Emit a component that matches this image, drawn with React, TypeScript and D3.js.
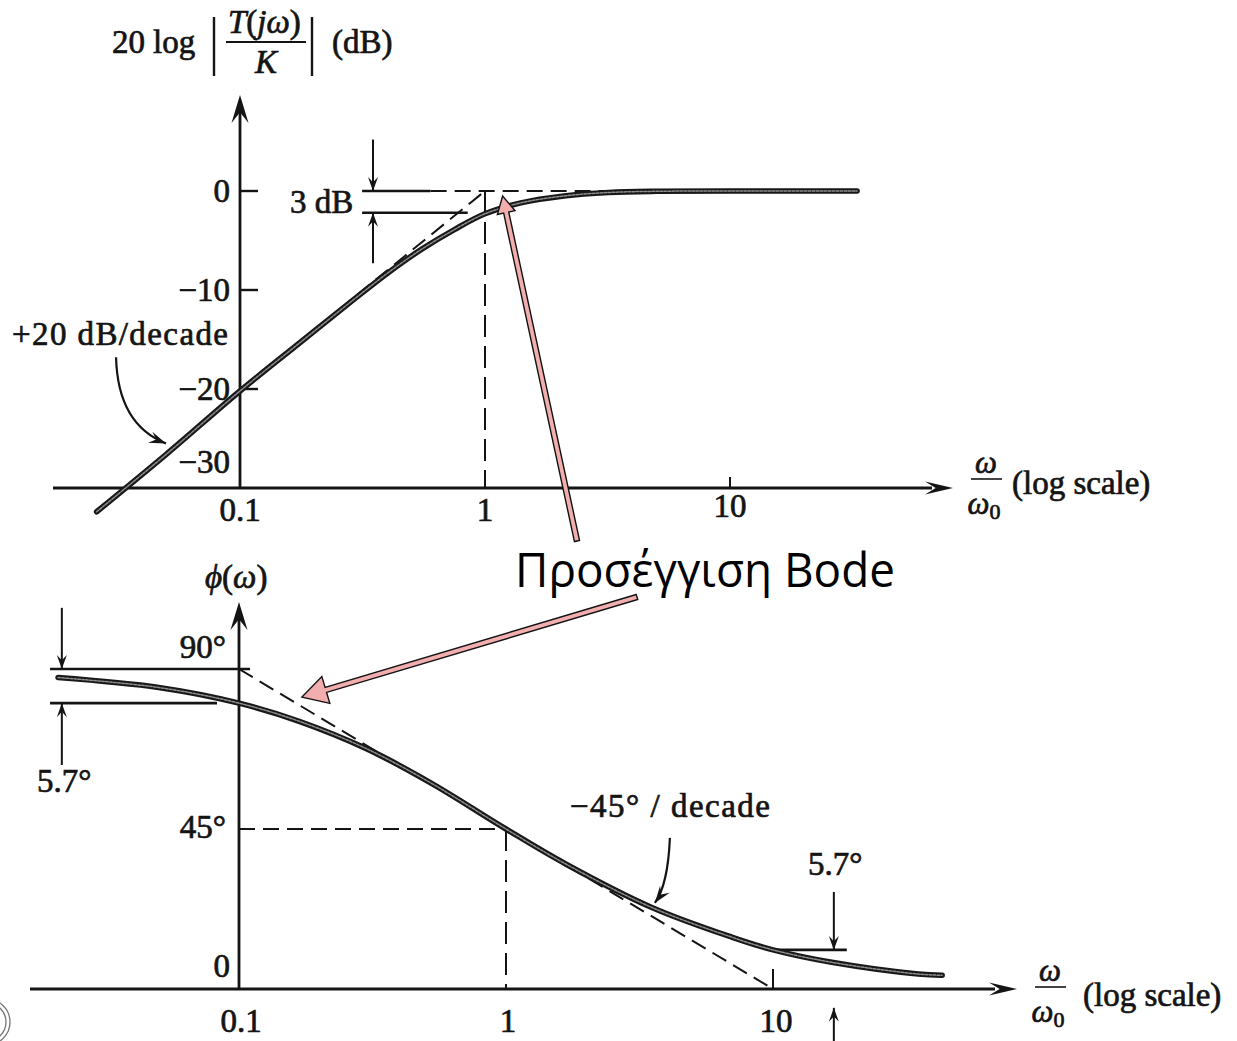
import React from 'react';
import * as d3 from 'd3';

const W = 1237;
const H = 1041;

// Magnitude of the high-pass response, ω/ω0 against dB
const magOmega = [0.026, 0.05, 0.1, 0.176, 0.29, 0.4, 0.55, 0.75, 1, 1.4, 2.1, 3.2, 5, 10, 33];
const magDb = [-32.4, -26.6, -20.2, -15.3, -11.0, -8.3, -5.9, -3.9, -2.3, -1.2, -0.5, -0.15, -0.03, 0, 0];

// Phase of the same response, ω/ω0 against degrees
const phaseOmega = [0.021, 0.05, 0.1, 0.168, 0.3, 0.53, 1, 1.68, 3.5, 7, 10, 16.6, 35, 43];
const phaseDeg = [87.6, 84.8, 80.4, 75.3, 67.6, 57.7, 45, 35.1, 23.0, 14.6, 11.0, 7.5, 4.2, 3.85];

// Axis ticks
const freqTicks = [0.1, 1, 10];
const freqTickLabels = ['0.1', '1', '10'];
const magTicks = [0, -10, -20, -30];
const magTickLabels = ['0', '\u221210', '\u221220', '\u221230'];
const phaseTicks = [90, 45, 0];
const phaseTickLabels = ['90\u00b0', '45\u00b0', '0'];

// Straight-line (Bode) asymptotes
const magSlopeOmega = [0.3, 1];
const magSlopeDb = [-10.5, 0];
const magFlatOmega = [0.6, 4.3];
const phaseSlopeOmega = [0.1, 10];
const phaseSlopeDeg = [90, 0];

// Dimension markers
const magMarkUpper = 0;
const magMarkLower = -2.2;
const phaseMarkTop = 90;
const phaseMarkLow = 80.4;
const phaseMarkRight = 11.0;

const SERIF = '"Liberation Serif", "Times New Roman", Times, serif';
const INK = '#141414';
const TXT = { stroke: INK, strokeWidth: 0.7 };

const xMag = d3.scaleLog().domain([0.1, 10]).range([240, 730]);
const yMag = d3.scaleLinear().domain([0, -30]).range([191, 488]);
const xPh = d3.scaleLog().domain([0.1, 10]).range([239, 773]);
const yPh = d3.scaleLinear().domain([90, 0]).range([669, 989]);

type P = [number, number];

function zip(a: number[], b: number[]): P[] {
  return a.map((v, i) => [v, b[i]] as P);
}

function headPath(x1: number, y1: number, x2: number, y2: number, len = 13, half = 4.5) {
  const dx = x2 - x1;
  const dy = y2 - y1;
  const d = Math.hypot(dx, dy) || 1;
  const ux = dx / d;
  const uy = dy / d;
  const nx = -uy;
  const ny = ux;
  const bx = x2 - ux * len;
  const by = y2 - uy * len;
  const mx = x2 - ux * len * 0.62;
  const my = y2 - uy * len * 0.62;
  return `M${x2},${y2}L${bx + nx * half},${by + ny * half}L${mx},${my}L${bx - nx * half},${by - ny * half}Z`;
}

function DimArrow({ x1, y1, x2, y2 }: { x1: number; y1: number; x2: number; y2: number }) {
  return (
    <g>
      <line x1={x1} y1={y1} x2={x2} y2={y2} stroke={INK} strokeWidth={2} />
      <path d={headPath(x1, y1, x2, y2, 14, 5)} fill={INK} />
    </g>
  );
}

function PinkArrow({ x1, y1, x2, y2, len, half }: { x1: number; y1: number; x2: number; y2: number; len: number; half: number }) {
  const dx = x2 - x1;
  const dy = y2 - y1;
  const d = Math.hypot(dx, dy);
  const ux = dx / d;
  const uy = dy / d;
  const nx = -uy;
  const ny = ux;
  const w = 2.6;
  const bx = x2 - ux * len;
  const by = y2 - uy * len;
  const pts: P[] = [
    [x1 + nx * w, y1 + ny * w],
    [bx + nx * w, by + ny * w],
    [bx + nx * half, by + ny * half],
    [x2, y2],
    [bx - nx * half, by - ny * half],
    [bx - nx * w, by - ny * w],
    [x1 - nx * w, y1 - ny * w],
  ];
  return (
    <polygon
      points={pts.map((p) => p.join(',')).join(' ')}
      fill="#f2aeae"
      stroke="#111"
      strokeWidth={1.4}
      strokeLinejoin="miter"
    />
  );
}

function Curve({ d }: { d: string }) {
  return (
    <g fill="none" strokeLinecap="round">
      <path d={d} stroke="#181818" strokeWidth={5.6} />
      <path d={d} stroke="#8d8d8d" strokeWidth={1.5} strokeDasharray="2.5,1.5" />
    </g>
  );
}

function OmegaRatio({ cx, y }: { cx: number; y: number }) {
  return (
    <g fontFamily={SERIF} fill={INK} {...TXT}>
      <text x={cx} y={y - 6} fontSize={31} fontStyle="italic" textAnchor="middle">ω</text>
      <line x1={cx - 15} x2={cx + 16} y1={y} y2={y} stroke={INK} strokeWidth={1.6} />
      <text x={cx - 2} y={y + 35} fontSize={31} fontStyle="italic" textAnchor="middle">
        ω<tspan fontStyle="normal" fontSize={22} dy={5}>0</tspan>
      </text>
    </g>
  );
}

export default function App() {
  const magLine = d3
    .line<P>()
    .x((d) => xMag(d[0]))
    .y((d) => yMag(d[1]))
    .curve(d3.curveCatmullRom.alpha(0.5));
  const phLine = d3
    .line<P>()
    .x((d) => xPh(d[0]))
    .y((d) => yPh(d[1]))
    .curve(d3.curveCatmullRom.alpha(0.5));
  const straight = (xs: (v: number) => number, ys: (v: number) => number) =>
    d3.line<P>().x((d) => xs(d[0])).y((d) => ys(d[1]));

  const magPath = magLine(zip(magOmega, magDb)) || '';
  const phPath = phLine(zip(phaseOmega, phaseDeg)) || '';

  const magAxisY = yMag(-30);
  const phAxisY = yPh(0);
  const dash = '16,8';

  // curved callout arrows, anchored in data space
  const m0: P = [xMag(0.0312), yMag(-16.8)];
  const mc: P = [xMag(0.0317), yMag(-23.6)];
  const m1: P = [xMag(0.0499), yMag(-25.5)];
  const p0: P = [xPh(4.11), yPh(42.5)];
  const pc: P = [xPh(4.04), yPh(29.2)];
  const p1: P = [xPh(3.61), yPh(24.2)];

  return (
    <svg
      width={W}
      height={H}
      viewBox={`0 0 ${W} ${H}`}
      style={{ position: 'absolute', left: 0, top: 0, background: '#fff' }}
    >
      <rect width={W} height={H} fill="#fff" />

      {/* ---------- Magnitude plot ---------- */}
      <g fontFamily={SERIF} fill={INK} {...TXT}>
        <text x={112} y={53} fontSize={33}>20</text>
        <text x={153} y={53} fontSize={33}>log</text>
        <line x1={214} x2={214} y1={17} y2={76} stroke={INK} strokeWidth={2.4} />
        <text x={228} y={33} fontSize={33}>
          <tspan fontStyle="italic">T</tspan>(<tspan fontStyle="italic">jω</tspan>)
        </text>
        <line x1={226} x2={306} y1={42} y2={42} stroke={INK} strokeWidth={2} />
        <text x={266} y={73} fontSize={33} fontStyle="italic" textAnchor="middle">K</text>
        <line x1={312} x2={312} y1={17} y2={76} stroke={INK} strokeWidth={2.4} />
        <text x={332} y={53} fontSize={33}>(dB)</text>
      </g>

      {/* axes */}
      <line x1={53} x2={932} y1={magAxisY} y2={magAxisY} stroke={INK} strokeWidth={2.8} />
      <path d={headPath(900, magAxisY, 953, magAxisY, 28, 6.5)} fill={INK} />
      <line x1={xMag(0.1)} x2={xMag(0.1)} y1={magAxisY} y2={112} stroke={INK} strokeWidth={2.8} />
      <path d={headPath(xMag(0.1), 200, xMag(0.1), 95, 28, 8.5)} fill={INK} />

      {magTicks.slice(0, 3).map((t) => (
        <line key={t} x1={xMag(0.1)} x2={xMag(0.1) + 18} y1={yMag(t)} y2={yMag(t)} stroke={INK} strokeWidth={2.4} />
      ))}
      <line x1={xMag(10)} x2={xMag(10)} y1={magAxisY} y2={magAxisY - 11} stroke={INK} strokeWidth={2} />

      <g fontFamily={SERIF} fontSize={33} fill={INK} {...TXT}>
        {magTicks.map((t, i) => (
          <text key={t} x={230} y={t === -30 ? yMag(t) - 15 : yMag(t) + 11} textAnchor="end">
            {magTickLabels[i]}
          </text>
        ))}
        {freqTicks.map((t, i) => (
          <text key={t} x={xMag(t)} y={t === 10 ? 517 : 521} textAnchor="middle">
            {freqTickLabels[i]}
          </text>
        ))}
        <text x={1012} y={494}>(log scale)</text>
        <text x={290} y={213}>3 dB</text>
        <text x={12} y={345} textLength={216} lengthAdjust="spacing">+20 dB/decade</text>
      </g>
      <OmegaRatio cx={986} y={479} />

      {/* asymptotes and markers */}
      <g fill="none" stroke={INK} strokeWidth={2}>
        <path d={straight(xMag, yMag)(zip(magSlopeOmega, magSlopeDb)) || ''} strokeDasharray={dash} />
        <path
          d={straight(xMag, yMag)(zip(magFlatOmega, [magMarkUpper, magMarkUpper])) || ''}
          strokeDasharray={dash}
        />
        <line x1={xMag(1)} x2={xMag(1)} y1={yMag(0)} y2={magAxisY} strokeDasharray="22,9" />
        <line x1={xMag(0.315)} x2={xMag(0.6)} y1={yMag(magMarkUpper)} y2={yMag(magMarkUpper)} strokeWidth={2.4} />
        <line x1={xMag(0.315)} x2={xMag(0.85)} y1={yMag(magMarkLower)} y2={yMag(magMarkLower)} strokeWidth={2.4} />
      </g>
      <DimArrow x1={xMag(0.349)} y1={yMag(5.2)} x2={xMag(0.349)} y2={yMag(magMarkUpper)} />
      <DimArrow x1={xMag(0.349)} y1={yMag(-7.3)} x2={xMag(0.349)} y2={yMag(magMarkLower)} />

      <Curve d={magPath} />

      <path d={`M${m0[0]},${m0[1]}Q${mc[0]},${mc[1]} ${m1[0]},${m1[1]}`} fill="none" stroke={INK} strokeWidth={2.2} />
      <path d={headPath(mc[0], mc[1], m1[0], m1[1], 17, 6)} fill={INK} />

      {/* ---------- Phase plot ---------- */}
      <text x={205} y={588} fontFamily={SERIF} fontSize={33} fill={INK} {...TXT}>
        <tspan fontStyle="italic">ϕ</tspan>(<tspan fontStyle="italic">ω</tspan>)
      </text>

      <line x1={30} x2={995} y1={phAxisY} y2={phAxisY} stroke={INK} strokeWidth={2.8} />
      <path d={headPath(960, phAxisY, 1017, phAxisY, 28, 6.5)} fill={INK} />
      <line x1={xPh(0.1)} x2={xPh(0.1)} y1={phAxisY} y2={618} stroke={INK} strokeWidth={2.8} />
      <path d={headPath(xPh(0.1), 700, xPh(0.1), 602, 28, 8.5)} fill={INK} />
      <line x1={xPh(10)} x2={xPh(10)} y1={phAxisY} y2={phAxisY - 20} stroke={INK} strokeWidth={2} />

      <g fontFamily={SERIF} fontSize={33} fill={INK} {...TXT}>
        {phaseTicks.map((t, i) => (
          <text key={t} x={t === 0 ? 230 : 226} y={t === 0 ? yPh(t) - 12 : yPh(t) - 11 + (t === 45 ? 20 : 0)} textAnchor="end">
            {phaseTickLabels[i]}
          </text>
        ))}
        {freqTicks.map((t, i) => (
          <text key={t} x={xPh(t) + (t === 10 ? 3 : 2)} y={1032} textAnchor="middle">
            {freqTickLabels[i]}
          </text>
        ))}
        <text x={1083} y={1006}>(log scale)</text>
        <text x={37} y={792}>5.7°</text>
        <text x={808} y={875}>5.7°</text>
        <text x={570} y={817} textLength={200} lengthAdjust="spacing">−45° / decade</text>
      </g>
      <OmegaRatio cx={1050} y={987} />

      <g fill="none" stroke={INK} strokeWidth={2}>
        <path d={straight(xPh, yPh)(zip(phaseSlopeOmega, phaseSlopeDeg)) || ''} strokeDasharray={dash} />
        <line x1={xPh(0.1)} x2={xPh(1)} y1={yPh(45)} y2={yPh(45)} strokeDasharray={dash} />
        <line x1={xPh(1)} x2={xPh(1)} y1={yPh(45)} y2={phAxisY} strokeDasharray="22,9" />
        <line x1={xPh(0.0196)} x2={xPh(0.11)} y1={yPh(phaseMarkTop)} y2={yPh(phaseMarkTop)} strokeWidth={2.6} />
        <line x1={xPh(0.0196)} x2={xPh(0.0827)} y1={yPh(phaseMarkLow)} y2={yPh(phaseMarkLow)} strokeWidth={2.6} />
        <line x1={xPh(10.2)} x2={xPh(18.9)} y1={yPh(phaseMarkRight)} y2={yPh(phaseMarkRight)} strokeWidth={2.6} />
      </g>
      <DimArrow x1={xPh(0.0217)} y1={yPh(107.2)} x2={xPh(0.0217)} y2={yPh(phaseMarkTop)} />
      <DimArrow x1={xPh(0.0217)} y1={yPh(63)} x2={xPh(0.0217)} y2={yPh(phaseMarkLow)} />
      <DimArrow x1={xPh(16.9)} y1={yPh(27.3)} x2={xPh(16.9)} y2={yPh(phaseMarkRight)} />
      <DimArrow x1={xPh(16.9)} y1={yPh(-14.8)} x2={xPh(16.9)} y2={yPh(-5.3)} />

      <Curve d={phPath} />

      <path d={`M${p0[0]},${p0[1]}Q${pc[0]},${pc[1]} ${p1[0]},${p1[1]}`} fill="none" stroke={INK} strokeWidth={2.2} />
      <path d={headPath(pc[0], pc[1], p1[0], p1[1], 17, 6)} fill={INK} />

      {/* ---------- Bode callout ---------- */}
      <PinkArrow x1={577} y1={541} x2={xMag(1.18)} y2={yMag(-0.5)} len={17} half={9} />
      <PinkArrow x1={637} y1={597} x2={xPh(0.172)} y2={yPh(82.1)} len={25} half={14} />
      <text
        x={515}
        y={587}
        fontFamily='"Open Sans", "Noto Sans", sans-serif'
        fontSize={47}
        fill="#000"
        textLength={380}
        lengthAdjust="spacingAndGlyphs"
      >
        Προσέγγιση Bode
      </text>

      {/* stamp at the lower-left edge */}
      <g fill="none" stroke="#777" strokeWidth={1.3}>
        <circle cx={-13} cy={1022} r={23} />
        <circle cx={-13} cy={1022} r={19} />
      </g>
    </svg>
  );
}
